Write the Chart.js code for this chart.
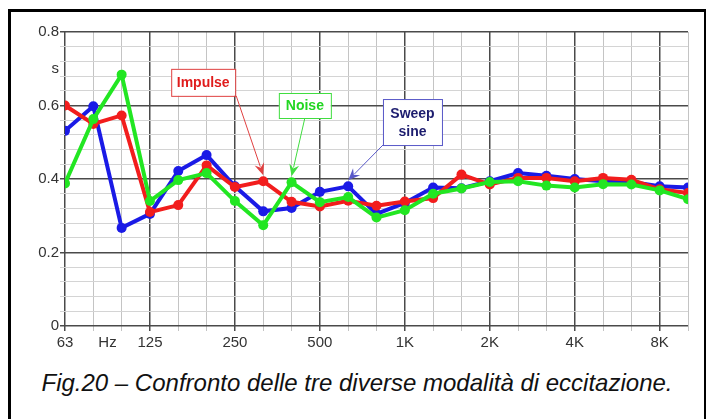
<!DOCTYPE html>
<html>
<head>
<meta charset="utf-8">
<script src="https://cdn.jsdelivr.net/npm/chart.js@4.4.1/dist/chart.umd.min.js"></script>
<style>
  body { margin: 0; background: #fff; width: 706px; height: 419px; overflow: hidden; position: relative; font-family: "Liberation Sans", Arial, sans-serif; }
  #frame { position: absolute; left: 8px; top: 9px; width: 693px; height: 420px; border: 3px solid #000; border-bottom: none; }
  #wrap { position: absolute; left: 0; top: 0; width: 706px; height: 360px; }
  #caption { position: absolute; left: 4px; top: 369px; width: 706px; text-align: center; font-style: italic; font-size: 24px; color: #111; }
</style>
</head>
<body>
<div id="frame"></div>
<div id="wrap"><canvas id="grafico"></canvas></div>
<div id="caption">Fig.20 – Confronto delle tre diverse modalità di eccitazione.</div>
<script>
// bande di terzo d'ottava
const frequenze = ['63', '80', '100', '125', '160', '200', '250', '315', '400', '500', '630', '800',
    '1K', '1.25K', '1.6K', '2K', '2.5K', '3.15K', '4K', '5K', '6.3K', '8K', '10K'];

// etichette dell'asse x (posizione = indice banda)
const etichetteX = { 0: '63', 1.5: 'Hz', 3: '125', 6: '250', 9: '500', 12: '1K', 15: '2K', 18: '4K', 21: '8K' };

// tempi in secondi
const impulse = [0.600, 0.550, 0.573, 0.310, 0.329, 0.437, 0.378, 0.394, 0.338, 0.325, 0.341, 0.327,
    0.339, 0.348, 0.412, 0.385, 0.403, 0.403, 0.394, 0.403, 0.398, 0.372, 0.362];
const noise = [0.388, 0.563, 0.684, 0.340, 0.397, 0.416, 0.340, 0.274, 0.391, 0.337, 0.351, 0.295,
    0.315, 0.360, 0.374, 0.392, 0.394, 0.382, 0.377, 0.386, 0.385, 0.369, 0.345];
const sweep = [0.531, 0.598, 0.267, 0.305, 0.422, 0.465, 0.380, 0.312, 0.321, 0.365, 0.380, 0.305,
    0.335, 0.377, 0.375, 0.394, 0.416, 0.409, 0.400, 0.394, 0.392, 0.380, 0.377];

const ROSSO = '#f21d1d';
const VERDE = '#22e622';
const BLU = '#1a1ae6';

function punti(serie) {
    return serie.map((v, i) => ({ x: i, y: v }));
}

// Etichette con freccia verso un punto della curva
const note = [
    { testo: ['Impulse'], bx: 4.88, by: 0.663, w: 64, h: 27, serie: impulse, idx: 7, da: 'br',
      colore: '#e01c1c', bordo: '#e04040' },
    { testo: ['Noise'], bx: 8.47, by: 0.600, w: 52, h: 25, serie: noise, idx: 8, da: 'bc',
      colore: '#22d622', bordo: '#40dd40' },
    { testo: ['Sweep', 'sine'], bx: 12.27, by: 0.555, w: 59, h: 46, serie: sweep, idx: 10, da: 'bl',
      colore: '#1c1c6e', bordo: '#5858c8' }
];

const pluginNote = {
    id: 'note',
    afterDatasetsDraw(chart) {
        const ctx = chart.ctx;
        const sx = chart.scales.x, sy = chart.scales.y;
        ctx.save();
        note.forEach(n => {
            const cx = sx.getPixelForValue(n.bx), cy = sy.getPixelForValue(n.by);
            const x0 = cx - n.w / 2, y0 = cy - n.h / 2;
            // punto di partenza della freccia
            let ax = cx, ay = y0 + n.h;
            if (n.da === 'br') ax = x0 + n.w + 1;
            if (n.da === 'bl') ax = x0;
            const px = sx.getPixelForValue(n.idx);
            const py = sy.getPixelForValue(n.serie[n.idx]) - 6;
            const ang = Math.atan2(py - ay, px - ax);
            ctx.strokeStyle = n.bordo;
            ctx.fillStyle = n.bordo;
            ctx.lineWidth = 1;
            ctx.beginPath();
            ctx.moveTo(ax, ay);
            ctx.lineTo(px - 9 * Math.cos(ang), py - 9 * Math.sin(ang));
            ctx.stroke();
            ctx.beginPath();
            ctx.moveTo(px, py);
            ctx.lineTo(px - 12 * Math.cos(ang) + 5 * Math.sin(ang), py - 12 * Math.sin(ang) - 5 * Math.cos(ang));
            ctx.lineTo(px - 8 * Math.cos(ang), py - 8 * Math.sin(ang));
            ctx.lineTo(px - 12 * Math.cos(ang) - 5 * Math.sin(ang), py - 12 * Math.sin(ang) + 5 * Math.cos(ang));
            ctx.closePath();
            ctx.fill();
            // riquadro
            ctx.fillStyle = '#fff';
            ctx.fillRect(x0, y0, n.w, n.h);
            ctx.strokeRect(x0 + 0.5, y0 + 0.5, n.w, n.h);
            ctx.fillStyle = n.colore;
            ctx.font = 'bold 14px "Liberation Sans", Arial, sans-serif';
            ctx.textAlign = 'center';
            ctx.textBaseline = 'middle';
            const lh = 18;
            n.testo.forEach((t, k) => {
                ctx.fillText(t, cx, cy + (k - (n.testo.length - 1) / 2) * lh + 1);
            });
        });
        ctx.restore();
    }
};

function crearGrafico() {
    const ctx = document.getElementById('grafico').getContext('2d');
    new Chart(ctx, {
        type: 'line',
        data: {
            datasets: [
                { label: 'Noise', data: punti(noise), borderColor: VERDE, backgroundColor: VERDE },
                { label: 'Impulse', data: punti(impulse), borderColor: ROSSO, backgroundColor: ROSSO },
                { label: 'Sweep sine', data: punti(sweep), borderColor: BLU, backgroundColor: BLU }
            ]
        },
        options: {
            responsive: true,
            maintainAspectRatio: false,
            animation: false,
            layout: { padding: { top: 32, right: 18, left: 0, bottom: 0 } },
            elements: {
                line: { borderWidth: 4, tension: 0 },
                point: { radius: 5, borderWidth: 0, hoverRadius: 5 }
            },
            plugins: { legend: { display: false }, tooltip: { enabled: false } },
            scales: {
                x: {
                    type: 'linear',
                    min: 0,
                    max: 22,
                    afterBuildTicks(scale) {
                        const v = frequenze.map((f, i) => i);
                        v.push(1.5);
                        v.sort((a, b) => a - b);
                        scale.ticks = v.map(t => ({ value: t }));
                    },
                    afterFit(scale) { scale.height = 34; },
                    border: { display: false },
                    grid: {
                        color: c => {
                            const t = c.tick.value;
                            if (t === 1.5) return 'rgba(0,0,0,0)';
                            if (t === 0 || t % 3 === 0) return '#4a4a4a';
                            return '#c4c4c4';
                        },
                        lineWidth: c => (c.tick.value % 3 === 0 ? 1.5 : 1),
                        tickLength: 5,
                        drawTicks: true
                    },
                    ticks: {
                        autoSkip: false,
                        maxRotation: 0,
                        padding: 3,
                        color: '#333',
                        font: { family: '"Liberation Sans", Arial, sans-serif', size: 15 },
                        callback: v => etichetteX[v] || ''
                    }
                },
                y: {
                    min: 0,
                    max: 0.8,
                    afterBuildTicks(scale) {
                        const v = [];
                        for (let i = 0; i <= 20; i++) v.push(Math.round(i * 4) / 100);
                        v.push(0.7);
                        v.sort((a, b) => a - b);
                        scale.ticks = v.map(t => ({ value: t }));
                    },
                    afterFit(scale) { scale.width = 65; },
                    border: { display: false },
                    grid: {
                        color: c => {
                            const t = Math.round(c.tick.value * 100);
                            if (t === 70) return 'rgba(0,0,0,0)';
                            if (t % 20 === 0) return '#4a4a4a';
                            return '#d4d4d4';
                        },
                        lineWidth: c => (Math.round(c.tick.value * 100) % 20 === 0 ? 1.5 : 1),
                        tickLength: 5
                    },
                    ticks: {
                        autoSkip: false,
                        padding: 1,
                        color: '#333',
                        font: { family: '"Liberation Sans", Arial, sans-serif', size: 15 },
                        callback: v => {
                            const t = Math.round(v * 100);
                            if (t === 70) return 's';
                            if (t % 20 === 0) return t === 0 ? '0' : (t / 100).toFixed(1);
                            return '';
                        }
                    }
                }
            }
        },
        plugins: [pluginNote]
    });
}

document.addEventListener('DOMContentLoaded', function () {
    crearGrafico();
});
</script>
</body>
</html>
